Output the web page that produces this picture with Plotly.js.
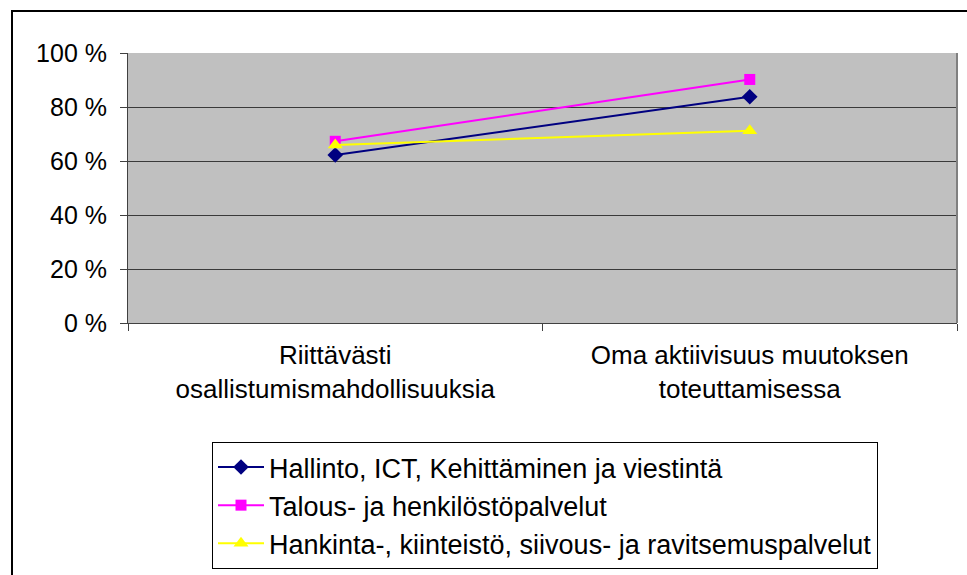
<!DOCTYPE html>
<html>
<head>
<meta charset="utf-8">
<script src="https://cdn.plot.ly/plotly-3.0.1.min.js"></script>
<style>
html,body{margin:0;padding:0;background:#fff;}
#chart{width:967px;height:575px;}
</style>
</head>
<body>
<div id="chart"></div>
<script>
var categories = ["Riittävästi<br>osallistumismahdollisuuksia", "Oma aktiivisuus muutoksen<br>toteuttamisessa"];
var seriesNames = ["Hallinto, ICT, Kehittäminen ja viestintä", "Talous- ja henkilöstöpalvelut", "Hankinta-, kiinteistö, siivous- ja ravitsemuspalvelut"];
var hallinto = [62.2, 83.8];
var talous = [67.3, 90.2];
var hankinta = [65.9, 71.2];
var yTicks = [0, 20, 40, 60, 80, 100];
var yTickLabels = ["0 %", "20 %", "40 %", "60 %", "80 %", "100 %"];

var colors = ["#000080", "#FF00FF", "#FFFF00"];
var symbols = ["diamond", "square", "triangle-up"];
var sizes = [12, 11, 13];
var values = [hallinto, talous, hankinta];

var traces = values.map(function(v, i){
  return {
    type: "scatter", mode: "lines+markers",
    x: categories, y: v, name: seriesNames[i],
    legendgroup: "g" + i,
    line: {color: colors[i], width: 2},
    marker: {symbol: symbols[i], size: sizes[i], color: colors[i]},
    cliponaxis: false
  };
});

var W = 829, H = 270, L = 128, T = 53;
function px(x){ return (x - L) / W; }
function py(y){ return (T + H - y) / H; }

var layout = {
  width: 967, height: 575,
  margin: {l: 128, r: 10, t: 53, b: 252, autoexpand: false},
  paper_bgcolor: "#ffffff",
  plot_bgcolor: "#C0C0C0",
  font: {family: "Liberation Sans, Arial, sans-serif", size: 25, color: "#000"},
  showlegend: true,
  xaxis: {
    type: "category", range: [-0.5, 1.5], automargin: false,
    showgrid: false, zeroline: false,
    showline: true, linecolor: "#404040", linewidth: 1,
    ticks: "outside", tickson: "boundaries", ticklen: 7, tickcolor: "#404040",
    tickfont: {size: 26}, ticklabelstandoff: 9
  },
  yaxis: {
    range: [0, 100], tickvals: yTicks, ticktext: yTickLabels, automargin: false,
    showgrid: true, gridcolor: "#3a3a3a", gridwidth: 1,
    zeroline: false, showline: true, linecolor: "#404040", linewidth: 1,
    ticks: "outside", ticklen: 7, tickcolor: "#404040",
    tickfont: {size: 25}, ticklabelstandoff: 8
  },
  legend: {
    x: px(212), y: py(442), xanchor: "left", yanchor: "top",
    bgcolor: "#ffffff", bordercolor: "#000", borderwidth: 1,
    font: {size: 27}, traceorder: "grouped", tracegroupgap: 0,
    itemwidth: 46
  },
  shapes: [
    {type: "line", xref: "paper", yref: "paper", x0: 1, x1: 1, y0: 0, y1: 1, line: {color: "#808080", width: 2}},
    {type: "line", xref: "paper", yref: "paper", x0: px(11), x1: px(980), y0: py(11), y1: py(11), line: {color: "#000", width: 2}},
    {type: "line", xref: "paper", yref: "paper", x0: px(12), x1: px(12), y0: py(10), y1: py(590), line: {color: "#000", width: 2}}
  ]
};

Plotly.newPlot("chart", traces, layout, {displayModeBar: false, staticPlot: true});
</script>
</body>
</html>
